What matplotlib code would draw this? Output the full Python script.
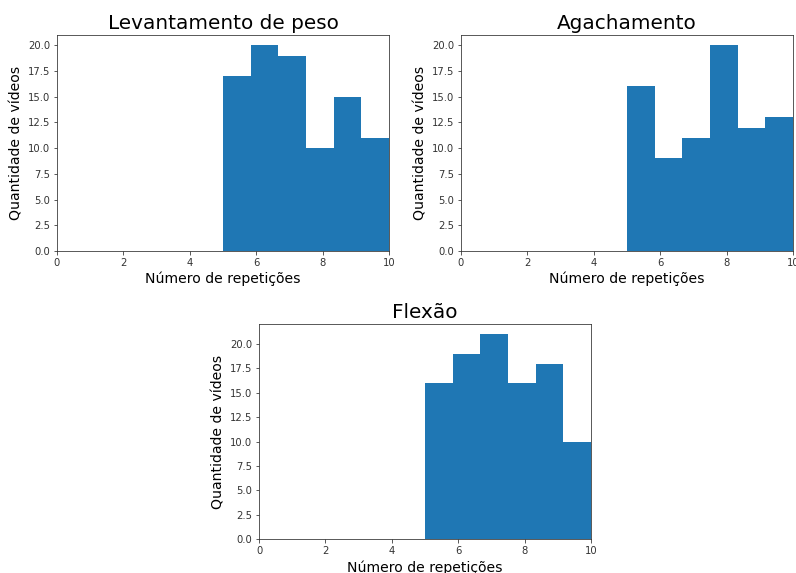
import numpy as np
import matplotlib
matplotlib.use("Agg")
import matplotlib.pyplot as plt

# histogram bins (number of repetitions)
bin_edges = np.linspace(5, 10, 7)

titles = ["Levantamento de peso", "Agachamento", "Flexão"]
counts_levantamento = [17, 20, 19, 10, 15, 11]
counts_agachamento = [16, 9, 11, 20, 12, 13]
counts_flexao = [16, 19, 21, 16, 18, 10]

fig = plt.figure(figsize=(796 / 72, 573 / 72), dpi=72)
positions = [
    [0.0716, 0.5620, 0.4171, 0.377],
    [0.5791, 0.5620, 0.4171, 0.377],
    [0.3254, 0.0593, 0.4171, 0.375],
]

for pos, title, counts in zip(positions, titles,
                              [counts_levantamento, counts_agachamento, counts_flexao]):
    ax = fig.add_axes(pos)
    ax.hist(bin_edges[:-1], bins=bin_edges, weights=counts, color="#1f77b4")
    ax.set_xlim(0, 10)
    ax.set_title(title, fontsize=20)
    ax.set_xlabel("Número de repetições", fontsize=14)
    ax.set_ylabel("Quantidade de vídeos", fontsize=14)
    ax.tick_params(labelsize=10, colors="#333333")
    for s in ax.spines.values():
        s.set_color("#333333")

fig.savefig("out.png", dpi=72)
